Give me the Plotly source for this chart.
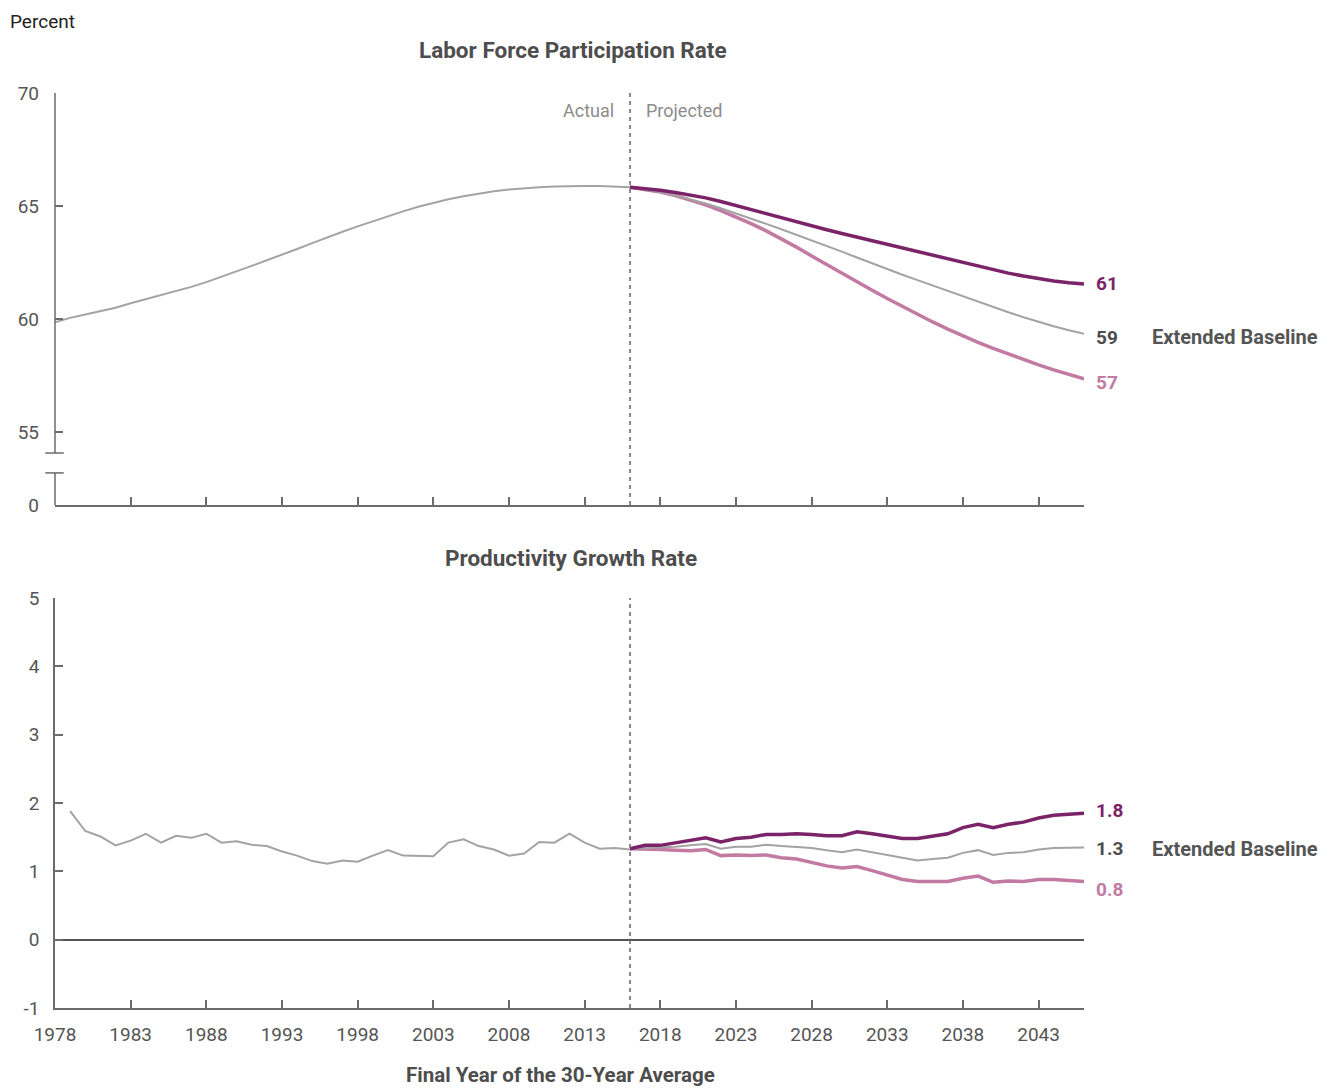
import plotly.graph_objects as go

# ---------------- data ----------------
lfpr_years_actual = list(range(1978, 2017))
lfpr_actual = [59.85, 60.05, 60.2, 60.35, 60.5, 60.7, 60.88, 61.05, 61.25, 61.42,
               61.63, 61.86, 62.1, 62.35, 62.6, 62.84, 63.1, 63.36, 63.62, 63.86,
               64.1, 64.33, 64.55, 64.76, 64.97, 65.15, 65.3, 65.43, 65.55, 65.65,
               65.73, 65.79, 65.83, 65.86, 65.88, 65.88, 65.88, 65.86, 65.83]

proj_years = list(range(2016, 2047))
lfpr_high = [65.83, 65.78, 65.70, 65.60, 65.48, 65.36, 65.20, 65.02, 64.83, 64.64,
             64.46, 64.28, 64.12, 63.95, 63.78, 63.62, 63.45, 63.28, 63.12, 62.96,
             62.80, 62.64, 62.48, 62.32, 62.17, 62.03, 61.90, 61.78, 61.68, 61.60, 61.55]
lfpr_base = [65.83, 65.74, 65.62, 65.47, 65.30, 65.11, 64.90, 64.68, 64.45, 64.21,
             63.97, 63.73, 63.48, 63.23, 62.98, 62.72, 62.46, 62.21, 61.96, 61.72,
             61.48, 61.24, 61.00, 60.76, 60.53, 60.30, 60.08, 59.87, 59.68, 59.50, 59.35]
lfpr_low = [65.83, 65.74, 65.62, 65.46, 65.27, 65.05, 64.80, 64.52, 64.22, 63.90,
            63.55, 63.18, 62.79, 62.40, 62.01, 61.63, 61.27, 60.91, 60.55, 60.20,
            59.87, 59.55, 59.25, 58.97, 58.70, 58.45, 58.20, 57.97, 57.75, 57.55, 57.35]

prod_years_actual = list(range(1979, 2017))
prod_actual = [1.88, 1.59, 1.51, 1.38, 1.45, 1.55, 1.42, 1.52, 1.49, 1.55,
               1.42, 1.44, 1.39, 1.37, 1.29, 1.23, 1.15, 1.11, 1.16, 1.14,
               1.23, 1.31, 1.23, 1.22, 1.22, 1.42, 1.47, 1.37, 1.32, 1.23,
               1.26, 1.43, 1.42, 1.55, 1.42, 1.33, 1.34, 1.32]
prod_high = [1.33, 1.38, 1.38, 1.42, 1.45, 1.49, 1.43, 1.48, 1.50, 1.54,
             1.54, 1.55, 1.54, 1.52, 1.52, 1.58, 1.55, 1.52, 1.48, 1.48,
             1.52, 1.55, 1.64, 1.69, 1.64, 1.69, 1.72, 1.78, 1.82, 1.83, 1.85]
prod_base = [1.33, 1.34, 1.34, 1.36, 1.38, 1.40, 1.33, 1.36, 1.36, 1.39,
             1.37, 1.36, 1.34, 1.31, 1.28, 1.32, 1.28, 1.23, 1.19, 1.16,
             1.18, 1.20, 1.27, 1.31, 1.24, 1.27, 1.28, 1.32, 1.34, 1.34, 1.35]
prod_low = [1.33, 1.33, 1.32, 1.31, 1.30, 1.32, 1.23, 1.24, 1.23, 1.24,
            1.20, 1.18, 1.13, 1.08, 1.05, 1.07, 1.01, 0.94, 0.88, 0.85,
            0.85, 0.85, 0.90, 0.93, 0.84, 0.86, 0.85, 0.88, 0.88, 0.87, 0.85]

x_tick_years = list(range(1978, 2044, 5))
lfpr_tickvals = [55, 60, 65, 70]
prod_tickvals = [-1, 0, 1, 2, 3, 4, 5]
lfpr_end_labels = ["61", "59", "57"]
prod_end_labels = ["1.8", "1.3", "0.8"]

# ---------------- style ----------------
GRAY = "#a3a3a3"
DARK = "#7b2368"
PINK = "#c27aa2"
AX = "#6b6b6b"
TXT = "#555555"
FONT = "Roboto"

Y0_POS = 51.77      # where "0" sits on the broken top axis
BREAK_HI = 54.07
BREAK_LO = 53.19
PROJ_START = 2016

fig = go.Figure()

# top panel
fig.add_trace(go.Scatter(x=lfpr_years_actual, y=lfpr_actual, mode="lines",
                         line=dict(color=GRAY, width=2), xaxis="x", yaxis="y", showlegend=False))
fig.add_trace(go.Scatter(x=proj_years, y=lfpr_low, mode="lines",
                         line=dict(color=PINK, width=3.5), xaxis="x", yaxis="y", showlegend=False))
fig.add_trace(go.Scatter(x=proj_years, y=lfpr_base, mode="lines",
                         line=dict(color=GRAY, width=2), xaxis="x", yaxis="y", showlegend=False))
fig.add_trace(go.Scatter(x=proj_years, y=lfpr_high, mode="lines",
                         line=dict(color=DARK, width=3.5), xaxis="x", yaxis="y", showlegend=False))

# bottom panel
fig.add_trace(go.Scatter(x=prod_years_actual, y=prod_actual, mode="lines",
                         line=dict(color=GRAY, width=2), xaxis="x2", yaxis="y2", showlegend=False))
fig.add_trace(go.Scatter(x=proj_years, y=prod_low, mode="lines",
                         line=dict(color=PINK, width=3.5), xaxis="x2", yaxis="y2", showlegend=False))
fig.add_trace(go.Scatter(x=proj_years, y=prod_base, mode="lines",
                         line=dict(color=GRAY, width=2), xaxis="x2", yaxis="y2", showlegend=False))
fig.add_trace(go.Scatter(x=proj_years, y=prod_high, mode="lines",
                         line=dict(color=DARK, width=3.5), xaxis="x2", yaxis="y2", showlegend=False))

tickfont = dict(family=FONT, size=19, color=TXT)

top_dom = [(1008 - 505) / 915, 1.0]
bot_dom = [0.0, (1008 - 598) / 915]

fig.update_layout(
    width=1333, height=1090,
    margin=dict(l=47, r=257, t=85, b=90, autoexpand=False),
    paper_bgcolor="white", plot_bgcolor="white",
    font=dict(family=FONT, color=TXT),
    xaxis=dict(domain=[0, 1], anchor="y", range=[1978, 2046], tickvals=x_tick_years,
               showticklabels=False, ticks="inside", ticklen=8, tickcolor=AX, tickwidth=1.5,
               showline=True, linecolor=AX, linewidth=1.5, showgrid=False, zeroline=False,
               automargin=False),
    yaxis=dict(domain=top_dom, anchor="x", range=[Y0_POS, 70],
               tickvals=[Y0_POS] + lfpr_tickvals, ticktext=["0"] + [str(v) for v in lfpr_tickvals],
               ticks="inside", ticklen=8, tickcolor=AX, tickwidth=1.5, tickfont=tickfont,
               ticklabelstandoff=15, automargin=False,
               showline=False, showgrid=False, zeroline=False),
    xaxis2=dict(domain=[0, 1], anchor="y2", range=[1978, 2046], tickvals=x_tick_years,
                ticktext=[str(v) for v in x_tick_years], tickfont=tickfont,
                ticks="inside", ticklen=8, tickcolor=AX, tickwidth=1.5, ticklabelstandoff=8,
                showline=True, linecolor=AX, linewidth=1.5, showgrid=False, zeroline=False,
                automargin=False),
    yaxis2=dict(domain=bot_dom, anchor="x2", range=[-1, 5], tickvals=prod_tickvals,
                ticktext=[str(v) for v in prod_tickvals], tickfont=tickfont,
                ticks="inside", ticklen=8, tickcolor=AX, tickwidth=1.5, ticklabelstandoff=10,
                showline=True, linecolor=AX, linewidth=1.5, showgrid=False, automargin=False,
                zeroline=True, zerolinecolor="#555555", zerolinewidth=1.5),
)

shapes = []
# broken y axis for top panel
shapes.append(dict(type="line", xref="x domain", yref="y", x0=0, x1=0, y0=BREAK_HI, y1=70,
                   line=dict(color=AX, width=1.5)))
shapes.append(dict(type="line", xref="x domain", yref="y", x0=0, x1=0, y0=Y0_POS, y1=BREAK_LO,
                   line=dict(color=AX, width=1.5)))
for yb in (BREAK_HI, BREAK_LO):
    shapes.append(dict(type="line", xref="x domain", yref="y", x0=-0.0095, x1=0.0085, y0=yb, y1=yb,
                       line=dict(color=AX, width=1.5)))
# actual/projected dividers
shapes.append(dict(type="line", xref="x", yref="y domain", x0=PROJ_START, x1=PROJ_START, y0=0, y1=1,
                   line=dict(color="#6e6e6e", width=1.6, dash="4px,4px")))
shapes.append(dict(type="line", xref="x2", yref="y2 domain", x0=PROJ_START, x1=PROJ_START, y0=0, y1=1,
                   line=dict(color="#6e6e6e", width=1.6, dash="4px,4px")))
fig.update_layout(shapes=shapes)

def py(pix):
    return (1008 - pix) / 915

def px(pix):
    return (pix - 55) / 1029

ann = []
ann.append(dict(text="Percent", xref="paper", yref="paper", x=px(8), y=py(8), xanchor="left",
                yanchor="top", showarrow=False, font=dict(family=FONT, size=19, color="#222222")))
ann.append(dict(text="<b>Labor Force Participation Rate</b>", xref="paper", yref="paper",
                x=px(573), y=py(50), xanchor="center", yanchor="middle", showarrow=False,
                font=dict(family=FONT, size=22.5, color="#4d4d4d")))
ann.append(dict(text="<b>Productivity Growth Rate</b>", xref="paper", yref="paper",
                x=px(571), y=py(558), xanchor="center", yanchor="middle", showarrow=False,
                font=dict(family=FONT, size=22.5, color="#4d4d4d")))
ann.append(dict(text="<b>Final Year of the 30-Year Average</b>", xref="paper", yref="paper",
                x=px(560), y=py(1075), xanchor="center", yanchor="middle", showarrow=False,
                font=dict(family=FONT, size=20.5, color="#4d4d4d")))
ann.append(dict(text="Actual", xref="x", yref="paper", x=PROJ_START, y=py(111), xanchor="right",
                yanchor="middle", xshift=-14, showarrow=False,
                font=dict(family=FONT, size=18, color="#8c8c8c")))
ann.append(dict(text="Projected", xref="x", yref="paper", x=PROJ_START, y=py(111), xanchor="left",
                yanchor="middle", xshift=14, showarrow=False,
                font=dict(family=FONT, size=18, color="#8c8c8c")))

end_colors = [DARK, "#4d4d4d", PINK]
top_label_y = [61.55, 59.2, 57.2]
bot_label_y = [1.89, 1.33, 0.74]
for lab, yv, c in zip(lfpr_end_labels, top_label_y, end_colors):
    ann.append(dict(text="<b>%s</b>" % lab, xref="x", yref="y", x=2046, y=yv, xanchor="left",
                    yanchor="middle", xshift=10, showarrow=False,
                    font=dict(family=FONT, size=19, color=c)))
for lab, yv, c in zip(prod_end_labels, bot_label_y, end_colors):
    ann.append(dict(text="<b>%s</b>" % lab, xref="x2", yref="y2", x=2046, y=yv, xanchor="left",
                    yanchor="middle", xshift=10, showarrow=False,
                    font=dict(family=FONT, size=19, color=c)))
ann.append(dict(text="<b>Extended Baseline</b>", xref="paper", yref="y", x=px(1150), y=59.2,
                xanchor="left", yanchor="middle", showarrow=False,
                font=dict(family=FONT, size=20, color="#555555")))
ann.append(dict(text="<b>Extended Baseline</b>", xref="paper", yref="y2", x=px(1150), y=1.33,
                xanchor="left", yanchor="middle", showarrow=False,
                font=dict(family=FONT, size=20, color="#555555")))
fig.update_layout(annotations=ann)

fig.write_html("out.html")
